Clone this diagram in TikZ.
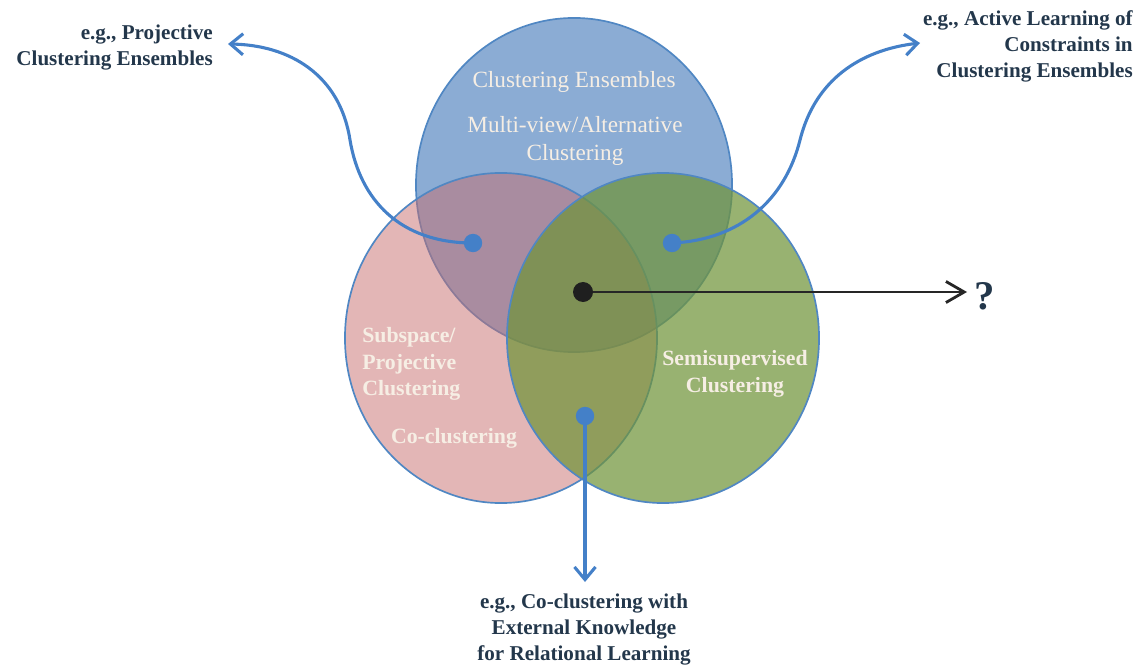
\documentclass[tikz,border=0pt]{standalone}
\usepackage{fontspec}
\setmainfont{Liberation Serif}
\usetikzlibrary{arrows.meta,shapes.geometric}

\definecolor{ensblue}{RGB}{79,129,189}
\definecolor{subpink}{RGB}{200,110,110}
\definecolor{semigreen}{RGB}{112,148,58}
\definecolor{rimblue}{RGB}{80,135,195}
\definecolor{dotblue}{RGB}{68,128,200}
\definecolor{labelink}{RGB}{35,55,75}
\definecolor{paletext}{RGB}{246,238,228}

\begin{document}
\begin{tikzpicture}[
  x=0.025cm, y=-0.025cm,
  lbl/.style={font=\bfseries\fontsize{15}{18.5}\selectfont, text=labelink, inner sep=0pt},
  inlbl/.style={font=\fontsize{16.5}{19.5}\selectfont, text=paletext, inner sep=0pt},
  inbold/.style={font=\bfseries\fontsize{15.5}{19}\selectfont, text=paletext, inner sep=0pt},
  ensc/.style={ellipse, draw=rimblue, line width=1.2pt, fill=ensblue, fill opacity=0.66, minimum width=7.9cm, minimum height=8.35cm, inner sep=0pt},
  subc/.style={ellipse, draw=rimblue, line width=1.2pt, fill=subpink, fill opacity=0.5, minimum width=7.8cm, minimum height=8.25cm, inner sep=0pt},
  semic/.style={ellipse, draw=rimblue, line width=1.2pt, fill=semigreen, fill opacity=0.72, minimum width=7.8cm, minimum height=8.25cm, inner sep=0pt},
  dotv/.style={circle, fill=dotblue, minimum size=4.6mm, inner sep=0pt},
  blackv/.style={circle, fill=black!88, minimum size=5mm, inner sep=0pt},
  blueedge/.style={draw=dotblue, line width=2.2pt, line cap=round, -{Straight Barb[length=9pt,width=15pt]}},
  blackedge/.style={draw=black!85, line width=2pt, -{Straight Barb[length=13pt,width=15pt]}}
]
\useasboundingbox (0,0) rectangle (1148,669);

\node[ensc] (ens) at (574,185) {};
\node[subc] (sub) at (501,338) {};
\node[semic] (semi) at (663,338) {};

\node[inlbl] (t1) at (574,82) {Clustering Ensembles};
\node[inlbl, align=center] (t2) at (575,141) {Multi-view/Alternative\\Clustering};
\node[inbold, align=left, anchor=west] (t3) at (362,364) {Subspace/\\Projective\\Clustering};
\node[inbold] (t4) at (454,438) {Co-clustering};
\node[inbold, align=center] (t5) at (735,374) {Semisupervised\\Clustering};

\node[lbl, align=right, anchor=east] (lp) at (213,48) {e.g., Projective\\Clustering Ensembles};
\node[lbl, align=right, anchor=east] (lc) at (1133,46) {e.g., Active Learning of\\Constraints in\\Clustering Ensembles};
\node[lbl, align=center, anchor=north] (lk) at (584,594) {e.g., Co-clustering with\\External Knowledge\\for Relational Learning};
\node[text=labelink, font=\bfseries\fontsize{29}{34}\selectfont, inner sep=0pt] (lq) at (985,296) {?};

\coordinate (tp) at (228,44);
\coordinate (tc) at (920,43);
\coordinate (tk) at (585,582);
\coordinate (tq) at (967,292);

\draw[blueedge] (473,243) .. controls (400,243) and (360,200) .. (350,140)
  .. controls (340,75) and (290,45) .. (tp);
\draw[blueedge] (672,243) .. controls (740,240) and (785,200) .. (800,140)
  .. controls (815,80) and (860,50) .. (tc);
\draw[blueedge] (585,416) -- (tk);
\draw[blackedge] (583,292) -- (tq);

\node[dotv] (dp) at (473,243) {};
\node[dotv] (dc) at (672,243) {};
\node[dotv] (dk) at (585,416) {};
\node[blackv] (dq) at (583,292) {};

\end{tikzpicture}
\end{document}
